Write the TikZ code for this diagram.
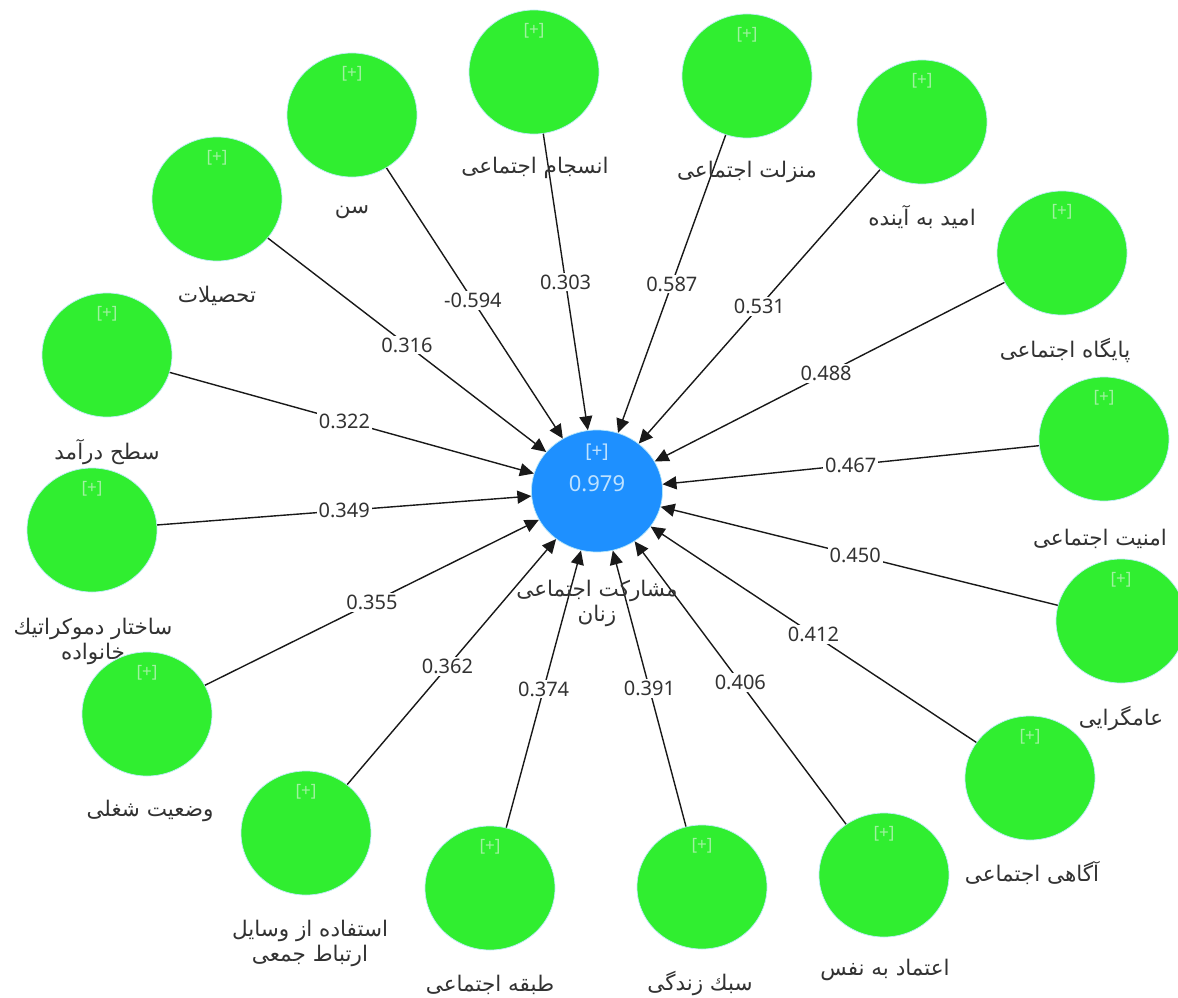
\documentclass[tikz,border=0pt]{standalone}
\usepackage{fontspec}
\setmainfont{Noto Sans}
\newfontfamily\fa[Script=Arabic]{DejaVu Sans}
\TeXXeTstate=1
\usetikzlibrary{arrows.meta,shapes.geometric}
\definecolor{lvgreen}{RGB}{48,238,48}
\definecolor{lvblue}{RGB}{30,144,255}
\definecolor{lvtext}{RGB}{50,50,50}
\definecolor{plusg}{RGB}{160,242,160}
\definecolor{plusb}{RGB}{190,226,255}
\newcommand\fatext[1]{{\fa\beginR #1\endR}}
\begin{document}
\begin{tikzpicture}[x=1pt,y=-1pt,
  lv/.style={ellipse, fill=lvgreen, draw=cyan!25, line width=0.7pt,
    minimum width=130pt, minimum height=124pt, inner sep=0pt,
    label={[plustxt, text=plusg, yshift=41pt]center:{[+]}}},
  dep/.style={ellipse, fill=lvblue, draw=cyan!30, line width=0.7pt,
    minimum width=131pt, minimum height=122pt, inner sep=0pt},
  plustxt/.style={font=\fontsize{17}{19}\selectfont, inner sep=0pt},
  tx/.style={text=lvtext, font=\fontsize{21.5}{25}\selectfont, align=center, inner sep=1pt},
  coef/.style={fill=white, text=lvtext, font=\fontsize{20}{23}\selectfont, inner sep=2pt},
  path arrow/.style={draw=black!90, line width=1.4pt, -{Triangle[length=14pt,width=13pt]}}
]
\useasboundingbox[fill=white] (0,0) rectangle (1178,998);

% dependent construct
\node[dep] (c) at (597,491) {};
\node[plustxt, text=plusb, font=\fontsize{19}{21}\selectfont] (cp) at (597,452) {[+]};
\node[text=plusb, font=\fontsize{22}{24}\selectfont, inner sep=0pt] (cv) at (597,484) {0.979};

% predictors
\node[lv] (n1) at (217,199) {};
\node[lv] (n2) at (352,115) {};
\node[lv] (n3) at (534,72) {};
\node[lv] (n4) at (747,76) {};
\node[lv] (n5) at (922,122) {};
\node[lv] (n6) at (1062,253) {};
\node[lv] (n7) at (1104,439) {};
\node[lv] (n8) at (1121,621) {};
\node[lv] (n9) at (1030,778) {};
\node[lv] (n10) at (884,875) {};
\node[lv] (n11) at (702,887) {};
\node[lv] (n12) at (490,888) {};
\node[lv] (n13) at (306,833) {};
\node[lv] (n14) at (147,714) {};
\node[lv] (n15) at (92,530) {};
\node[lv] (n16) at (107,355) {};

% paths
\draw[path arrow] (n1) -- (c) node[coef, pos=0.5] (e1) {0.316};
\draw[path arrow] (n2) -- (c) node[coef, pos=0.49] (e2) {-0.594};
\draw[path arrow] (n3) -- (c) node[coef, pos=0.5] (e3) {0.303};
\draw[path arrow] (n4) -- (c) node[coef, pos=0.5] (e4) {0.587};
\draw[path arrow] (n5) -- (c) node[coef, pos=0.5] (e5) {0.531};
\draw[path arrow] (n6) -- (c) node[coef, pos=0.51] (e6) {0.488};
\draw[path arrow] (n7) -- (c) node[coef, pos=0.5] (e7) {0.467};
\draw[path arrow] (n8) -- (c) node[coef, pos=0.51] (e8) {0.450};
\draw[path arrow] (n9) -- (c) node[coef, pos=0.5] (e9) {0.412};
\draw[path arrow] (n10) -- (c) node[coef, pos=0.5] (e10) {0.406};
\draw[path arrow] (n11) -- (c) node[coef, pos=0.5] (e11) {0.391};
\draw[path arrow] (n12) -- (c) node[coef, pos=0.5] (e12) {0.374};
\draw[path arrow] (n13) -- (c) node[coef, pos=0.48] (e13) {0.362};
\draw[path arrow] (n14) -- (c) node[coef, pos=0.5] (e14) {0.355};
\draw[path arrow] (n15) -- (c) node[coef, pos=0.5] (e15) {0.349};
\draw[path arrow] (n16) -- (c) node[coef, pos=0.48] (e16) {0.322};

% construct names
\node[tx] (tc) at (597,603) {\fatext{مشارکت اجتماعی}\\\fatext{زنان}};
\node[tx] (t1) at (217,296) {\fatext{تحصیلات}};
\node[tx] (t2) at (352,212) {\fatext{سن}};
\node[tx] (t3) at (535,168) {\fatext{انسجام اجتماعی}};
\node[tx] (t4) at (747,172) {\fatext{منزلت اجتماعی}};
\node[tx] (t5) at (922,217) {\fatext{امید به آینده}};
\node[tx] (t6) at (1065,350) {\fatext{پایگاه اجتماعی}};
\node[tx] (t7) at (1100,539) {\fatext{امنیت اجتماعی}};
\node[tx] (t8) at (1121,718) {\fatext{عامگرایی}};
\node[tx] (t9) at (1032,873) {\fatext{آگاهی اجتماعی}};
\node[tx] (t10) at (885,970) {\fatext{اعتماد به نفس}};
\node[tx] (t11) at (700,983) {\fatext{سبك زندگی}};
\node[tx] (t12) at (490,985) {\fatext{طبقه اجتماعی}};
\node[tx] (t13) at (310,943) {\fatext{استفاده از وسایل}\\\fatext{ارتباط جمعی}};
\node[tx] (t14) at (150,811) {\fatext{وضعیت شغلی}};
\node[tx] (t15) at (93,641) {\fatext{ساختار دموکراتیك}\\\fatext{خانواده}};
\node[tx] (t16) at (107,452) {\fatext{سطح درآمد}};
\end{tikzpicture}
\end{document}
